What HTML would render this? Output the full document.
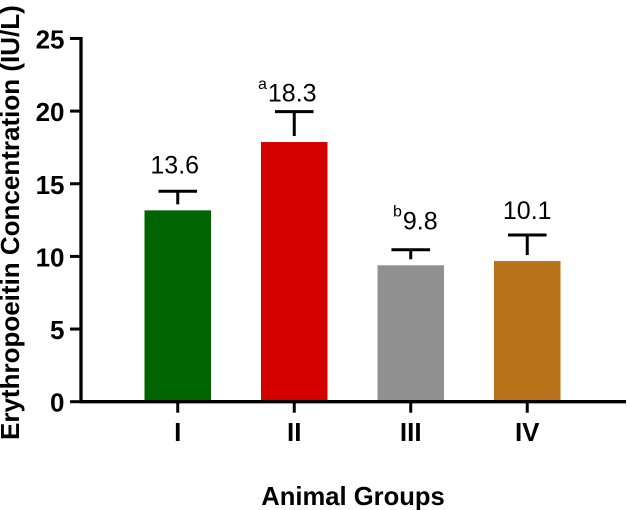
<!DOCTYPE html>
<html lang="en">
<head>
<meta charset="utf-8">
<title>Erythropoeitin Concentration by Animal Group</title>
<style>
  html, body { margin: 0; padding: 0; background: #fff; overflow: hidden; }
  svg { display: block; }
  text { font-family: "Liberation Sans", Arial, sans-serif; fill: #000; }
  .tick-label { font-size: 26px; font-weight: bold; }
  .x-title { font-size: 25.6px; font-weight: bold; }
  .y-title { font-size: 26px; font-weight: bold; }
  .value-label { font-size: 25px; }
  .value-prefix { font-size: 16px; }
</style>
</head>
<body>
<svg id="chart" width="630" height="510" viewBox="0 0 630 510" xmlns="http://www.w3.org/2000/svg">
  <rect x="0" y="0" width="630" height="510" fill="#fff"></rect>
  <text class="x-title" x="353" y="505" text-anchor="middle">Animal Groups</text>
  <text class="y-title" transform="translate(19 440) rotate(-90)" x="0" y="0">Erythropoeitin Concentration (IU/L)</text>
</svg>
<script>
const categories = ['I', 'II', 'III', 'IV'];
const barValues = [13.17, 17.87, 9.39, 9.68];
const errorValues = [1.31, 2.09, 1.07, 1.79];
const printedValues = ['13.6', '18.3', '9.8', '10.1'];
const printedPrefixes = ['', 'a', 'b', ''];
const printedLevels = [15.72, 20.65, 11.86, 12.57];
const barColors = ['#006400', '#d40000', '#909090', '#b8731a'];
const yTicks = [0, 5, 10, 15, 20, 25];

const svg = document.getElementById('chart');
const NS = 'http://www.w3.org/2000/svg';
const plot = { x0: 81, xStart: 119.5, band: 116.5, y0: 401.7, yScale: 14.53, barW: 66.5 };
const xPos = (i) => plot.xStart + plot.band * (i + 0.5);
const yPos = (v) => plot.y0 - v * plot.yScale;

function labelShift(i) {
  if (i === 0) return -3;
  if (i === 1) return -2;
  if (i === 2) return 9.5;
  return 0;
}
function make(tag, attrs, text) {
  const el = document.createElementNS(NS, tag);
  for (const k in attrs) el.setAttribute(k, attrs[k]);
  if (text !== undefined) el.textContent = text;
  svg.appendChild(el);
  return el;
}
function line(x1, y1, x2, y2, w) {
  return make('line', { x1, y1, x2, y2, stroke: '#000', 'stroke-width': w || 3 });
}

categories.forEach((cat, i) => {
  const cx = xPos(i);
  const top = yPos(barValues[i]);
  const bar = make('rect', { x: cx - plot.barW / 2, y: top, width: plot.barW, height: plot.y0 - top, fill: barColors[i] });
  
  

  const capY = yPos(barValues[i] + errorValues[i]);
  const stem = line(cx, top - 6, cx, capY);
  
  
  const cap = line(cx - 19.3, capY, cx + 19.3, capY);
  
  

  const tick = line(cx, plot.y0, cx, 412.7);
  
  

  const tickLabel = make('text', { class: 'tick-label', x: cx, y: 441, 'text-anchor': 'middle' }, cat);
  
  

  const labelX = cx + labelShift(i);
  const valueLabel = make('text', { class: 'value-label', x: labelX, y: yPos(printedLevels[i]), 'text-anchor': 'middle' }, printedValues[i]);
  
  

  if (printedPrefixes[i]) {
    const w = valueLabel.getComputedTextLength();
    const prefix = make('text', { class: 'value-prefix', x: labelX - w / 2 - 1, y: yPos(printedLevels[i]) - 12.7, 'text-anchor': 'end' }, printedPrefixes[i]);
    
    
  }
});

const yAxis = line(plot.x0, yPos(25) - 1.5, plot.x0, plot.y0 + 1.6, 3.3);


const xAxis = line(plot.x0, plot.y0, 626, plot.y0, 3.3);



yTicks.forEach((t) => {
  const tick = line(70, yPos(t), plot.x0, yPos(t));
  
  
  const label = make('text', { class: 'tick-label', x: 64.5, y: yPos(t) + 10, 'text-anchor': 'end' }, String(t));
  
  
});
</script>
</body>
</html>
